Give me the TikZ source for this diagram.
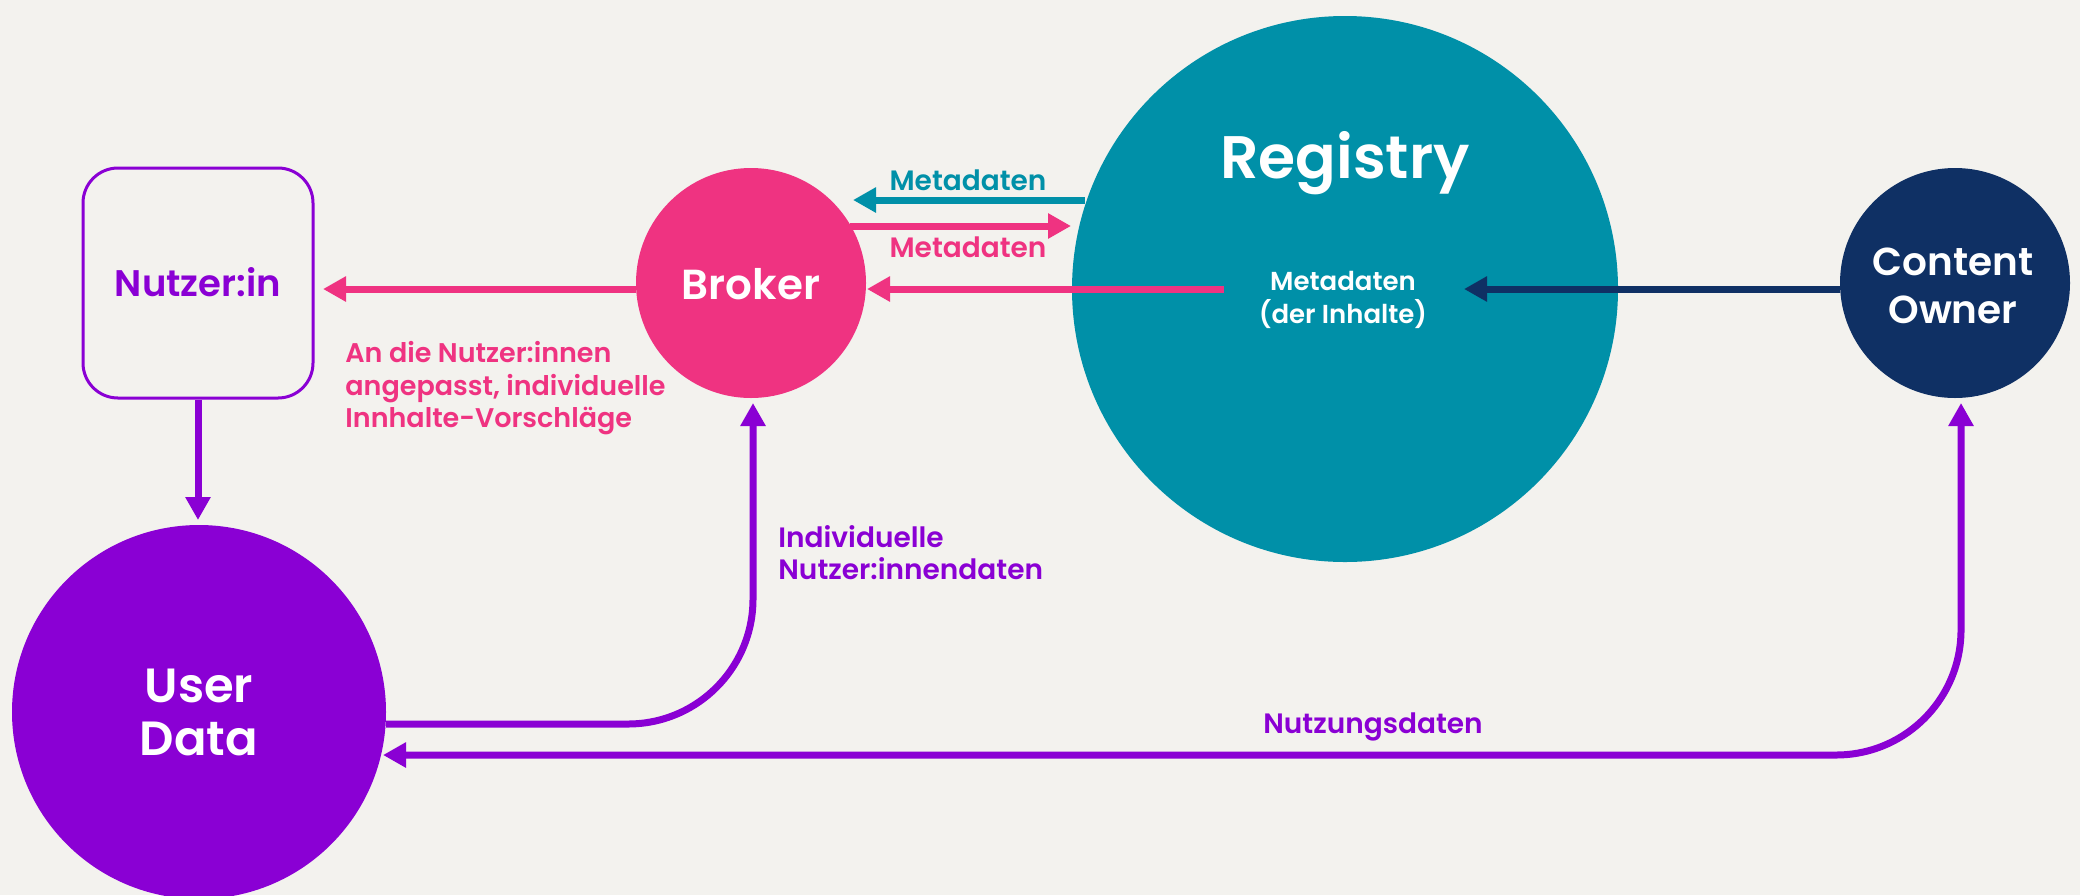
\documentclass[tikz,border=0pt]{standalone}
\usepackage{fontspec}
\setmainfont{Poppins}[BoldFont={Poppins SemiBold}]
\usetikzlibrary{arrows.meta}
\definecolor{bgc}{HTML}{F3F2EE}
\definecolor{purp}{HTML}{8A00D4}
\definecolor{pinkc}{HTML}{EF3381}
\definecolor{tealc}{HTML}{0090A8}
\definecolor{navyc}{HTML}{0F3064}
\newcommand\myfs[1]{\fontsize{#1}{#1}\selectfont}
\begin{document}
\begin{tikzpicture}[x=0.5pt,y=-0.5pt,
  lbl/.style={inner sep=0pt, anchor=base, font=\bfseries},
  disc/.style={circle, inner sep=0pt, draw=none},
  flow/.style={line width=3.5pt, -{Triangle[width=12pt,length=11.5pt]}},
  flowtwo/.style={line width=3.5pt, {Triangle[width=12pt,length=11.5pt]}-{Triangle[width=12pt,length=11.5pt]}, rounded corners=62.5pt}
]
\fill[bgc] (0,0) rectangle (2080,895);
\useasboundingbox (0,0) rectangle (2080,895);

% main shapes
\node[disc, fill=tealc, minimum size=273pt] (reg) at (1345,289) {};
\node[disc, fill=pinkc, minimum size=115pt] (broker) at (751,283) {};
\node[disc, fill=navyc, minimum size=115pt] (owner) at (1955,283) {};
\node[disc, fill=purp, minimum size=187pt] (ud) at (199,712) {};
\node[draw=purp, line width=1.5pt, fill=bgc, rounded corners=17.5pt,
      minimum width=115pt, minimum height=115pt, inner sep=0pt] (user) at (198,283) {};

% labels in shapes
\node[lbl, text=purp, font=\bfseries\myfs{18.5pt}] (userL) at (198,296) {Nutzer:in};
\node[lbl, text=white, font=\bfseries\myfs{21pt}] (brokerL) at (751,299) {Broker};
\node[lbl, text=white, font=\bfseries\myfs{30pt}] (regL) at (1345,178) {Registry};
\node[lbl, text=white, font=\bfseries\myfs{13pt}] (regM1) at (1343,290) {Metadaten};
\node[lbl, text=white, font=\bfseries\myfs{13pt}] (regM2) at (1343,323) {(der Inhalte)};
\node[lbl, text=white, font=\bfseries\myfs{19.5pt}] (ownL1) at (1953,275) {Content};
\node[lbl, text=white, font=\bfseries\myfs{19.5pt}] (ownL2) at (1953,323) {Owner};
\node[lbl, text=white, font=\bfseries\myfs{24pt}] (udL1) at (199,702) {User};
\node[lbl, text=white, font=\bfseries\myfs{24pt}] (udL2) at (199,755) {Data};

% tip coordinates
\coordinate (tipUser) at (323,289);
\coordinate (tipBrokerA) at (867,289);
\coordinate (tipBrokerT) at (853,200);
\coordinate (tipRegP) at (1071,226);
\coordinate (tipRegN) at (1464,289);
\coordinate (tipUD) at (198,520);
\coordinate (tipBrokerB) at (753,403);
\coordinate (tipOwner) at (1961,403);
\coordinate (tipUDB) at (383,755);
\coordinate (regStartP) at (1224,289);
\coordinate (regStartT) at (1085,200);
\coordinate (brkStartP) at (850,226);
\coordinate (udStart) at (386,724);

% connectors
\draw[flow, draw=pinkc] ([yshift=-3pt]broker.west) -- (tipUser);
\draw[flow, draw=pinkc] (regStartP) -- (tipBrokerA);
\draw[flow, draw=tealc] (regStartT) -- (tipBrokerT);
\draw[flow, draw=pinkc] (brkStartP) -- (tipRegP);
\draw[flow, draw=navyc] ([yshift=-3pt]owner.west) -- (tipRegN);
\draw[flow, draw=purp] (user.south) -- (tipUD);
\draw[flow, draw=purp, rounded corners=62.5pt] (udStart) -- (753,724) -- (tipBrokerB);
\draw[flowtwo, draw=purp] (tipUDB) -- (1961,755) -- (tipOwner);

% connector labels
\node[lbl, text=tealc, font=\bfseries\myfs{14pt}] (mdT) at (968,190) {Metadaten};
\node[lbl, text=pinkc, font=\bfseries\myfs{14pt}] (mdP) at (968,257) {Metadaten};
\node[lbl, anchor=base west, text=pinkc, font=\bfseries\myfs{13.5pt}] (pk1) at (345,362) {An die Nutzer:innen};
\node[lbl, anchor=base west, text=pinkc, font=\bfseries\myfs{13.5pt}] (pk2) at (345,395) {angepasst, individuelle};
\node[lbl, anchor=base west, text=pinkc, font=\bfseries\myfs{13.5pt}] (pk3) at (345,427) {Innhalte-Vorschläge};
\node[lbl, anchor=base west, text=purp, font=\bfseries\myfs{14pt}] (in1) at (778,547) {Individuelle};
\node[lbl, anchor=base west, text=purp, font=\bfseries\myfs{14pt}] (in2) at (778,579) {Nutzer:innendaten};
\node[lbl, text=purp, font=\bfseries\myfs{14pt}] (nz) at (1373,733) {Nutzungsdaten};
\end{tikzpicture}
\end{document}
